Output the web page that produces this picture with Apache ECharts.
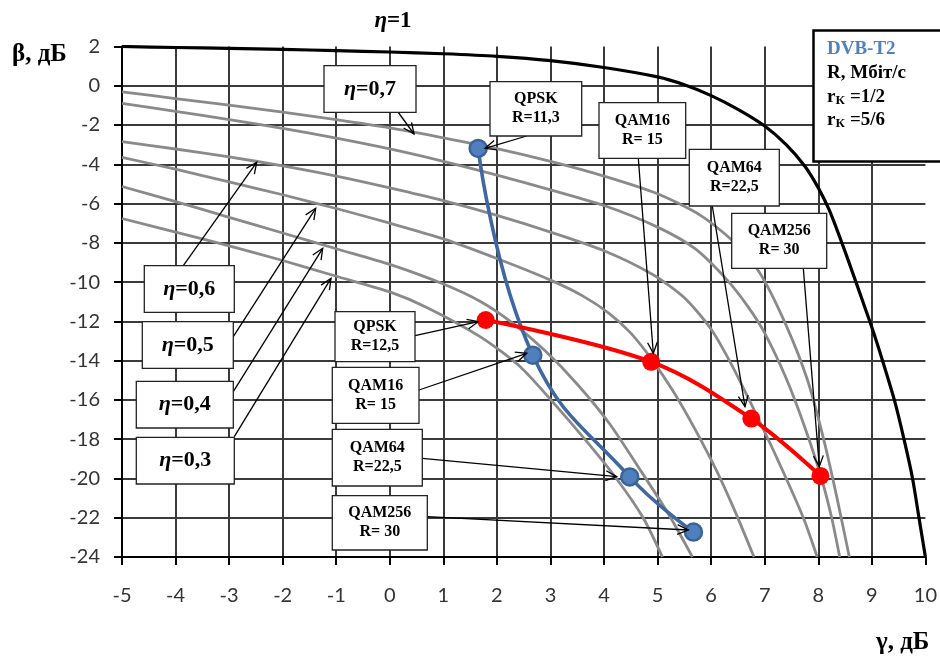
<!DOCTYPE html>
<html><head><meta charset="utf-8">
<script src="https://cdn.jsdelivr.net/npm/echarts@6/dist/echarts.min.js"></script>
<style>html,body{margin:0;padding:0;background:#fff}#c{width:940px;height:657px}</style>
</head><body><div id="c"></div>
<script>
// ---- data ----
const xRange = [-5, 10];
const yRange = [-24, 2];
// eta = 1 (black bound)
const etaOne = [[-5,2.0],[-4,1.95],[-3,1.9],[-2,1.85],[-1,1.79],[0,1.72],[1,1.63],[2,1.5],[3,1.28],[4,0.93],[5,0.45],[5.5,0.05],[6,-0.5],[6.5,-1.2],[7,-2.05],[7.4,-3.0],[7.75,-4.1],[8.0,-5.2],[8.2,-6.3],[8.4,-7.7],[8.6,-9.2],[8.8,-10.75],[9.0,-12.3],[9.2,-14.0],[9.42,-16.0],[9.6,-18.0],[9.76,-20.0],[9.88,-22.0],[10,-24]];
// grey eta curves (top to bottom)
const eta07 = [[-5,-0.31],[-4,-0.65],[-3,-0.99],[-2,-1.34],[-1,-1.73],[0,-2.15],[1,-2.65],[2,-3.2],[3,-3.85],[4,-4.6],[5,-5.5],[5.8,-6.6],[6.4,-7.9],[6.9,-9.5],[7.4,-12.2],[7.8,-15.0],[8.1,-18.0],[8.35,-21.0],[8.58,-24]];
const etaB = [[-5,-0.9],[-4,-1.3],[-3,-1.72],[-2,-2.17],[-1,-2.67],[0,-3.22],[1,-3.85],[2,-4.55],[3,-5.3],[4,-6.1],[5,-7.2],[5.7,-8.3],[6.3,-9.9],[6.7,-11.3],[7.0,-12.6],[7.4,-14.9],[7.75,-17.4],[8.05,-19.9],[8.25,-22],[8.4,-24]];
const eta06 = [[-5,-2.85],[-4,-3.22],[-3,-3.62],[-2,-4.08],[-1,-4.6],[0,-5.2],[1,-5.85],[2,-6.6],[3,-7.45],[4,-8.4],[4.9,-9.6],[5.5,-10.8],[6.0,-12.4],[6.4,-14.3],[6.8,-16.5],[7.15,-18.5],[7.5,-20.6],[7.75,-22.2],[7.98,-24]];
const eta05 = [[-5,-3.65],[-4,-4.25],[-3,-4.9],[-2,-5.55],[-1,-6.25],[0,-7.0],[1,-7.8],[2,-8.8],[3,-9.9],[3.6,-10.7],[4.1,-11.6],[4.5,-12.6],[4.88,-13.9],[5.3,-15.6],[5.7,-17.5],[6.1,-19.6],[6.45,-21.7],[6.8,-24]];
const eta04 = [[-5,-5.13],[-4,-5.9],[-3,-6.7],[-2,-7.5],[-1,-8.3],[0,-9.1],[1,-10.1],[1.7,-11.0],[2.3,-12.1],[2.9,-13.5],[3.5,-15.2],[4.1,-17.2],[4.66,-19.5],[5.2,-21.8],[5.65,-24]];
const eta03 = [[-5,-6.76],[-4,-7.45],[-3,-8.15],[-2,-8.9],[-1,-9.7],[0,-10.5],[0.7,-11.3],[1.7,-12.8],[2.43,-14.3],[3.04,-16.1],[3.64,-18.0],[4.23,-20.0],[4.73,-22.0],[5.09,-24]];
// DVB-T2 operating points
const modulations = ['QPSK','QAM16','QAM64','QAM256'];
const rateHalf = ['R=11,3','R= 15','R=22,5','R= 30'];
const rateFiveSixths = ['R=12,5','R= 15','R=22,5','R= 30'];
const dvbHalf = [[1.65,-3.19],[2.67,-13.72],[4.48,-19.92],[5.67,-22.73]];
const dvbFiveSixths = [[1.79,-11.93],[4.88,-14.06],[6.75,-16.95],[8.04,-19.87]];
const etaNames = ['0,7','0,6','0,5','0,4','0,3'];

// ---- chart ----
const chart = echarts.init(document.getElementById('c'), null, {renderer:'canvas'});
const serif = '"Liberation Serif","Times New Roman",serif';
const grey = {type:'line', showSymbol:false, smooth:0.25, lineStyle:{color:'#8a8a8a', width:2.8}, z:2, silent:true};

function arrow(x1,y1,x2,y2){
  const a = Math.atan2(y2-y1, x2-x1), L = 12, w = 0.42;
  const p1 = [x2 - L*Math.cos(a-w), y2 - L*Math.sin(a-w)];
  const p2 = [x2 - L*Math.cos(a+w), y2 - L*Math.sin(a+w)];
  return [
    {type:'line', z:90, shape:{x1:x1,y1:y1,x2:x2,y2:y2}, style:{stroke:'#000', lineWidth:1.3}},
    {type:'polyline', z:90, shape:{points:[p1,[x2,y2],p2]}, style:{stroke:'#000', fill:null, lineWidth:1.3}}
  ];
}
function box(x,y,w,h,text,rich,font){
  return [
    {type:'rect', z:95, shape:{x:x,y:y,width:w,height:h}, style:{fill:'#fff', stroke:'#222', lineWidth:1.3}},
    {type:'text', z:96, x:x+w/2, y:y+h/2, style:{text:text, rich:rich, font:font||('bold 16px '+serif), fill:'#000', align:'center', verticalAlign:'middle', lineHeight:19}}
  ];
}
const etaRich = {i:{fontFamily:serif, fontStyle:'italic', fontWeight:'bold', fontSize:22, fill:'#000'}, n:{fontFamily:serif, fontWeight:'bold', fontSize:22, fill:'#000'}};
const etaText = v => '{i|η}{n|=' + v + '}';

let g = [];
g = g.concat(arrow(398,112,414,134), box(324,65.7,92,46.6,etaText(etaNames[0]),etaRich));
g = g.concat(arrow(183.3,265.7,256.7,162.3), box(144.3,265.7,90,46.6,etaText(etaNames[1]),etaRich));
g = g.concat(arrow(233.3,336.7,315.7,208.3), box(142.3,321.7,91,46.6,etaText(etaNames[2]),etaRich));
g = g.concat(arrow(233.3,391.7,322.7,248.3), box(136.3,381.3,97,46.7,etaText(etaNames[3]),etaRich));
g = g.concat(arrow(234.3,436.7,331,278.3), box(136.3,437.3,98,46.7,etaText(etaNames[4]),etaRich));
g = g.concat(arrow(415,335.7,478.3,321.7), box(335,311.7,80,50, modulations[0]+'\n'+rateFiveSixths[0]));
g = g.concat(arrow(419,390,526.7,353.3), box(332.3,367.3,86.7,56, modulations[1]+'\n'+rateFiveSixths[1]));
g = g.concat(arrow(422.3,458.3,616.7,476.7), box(332.3,429.3,90,56.7, modulations[2]+'\n'+rateFiveSixths[2]));
g = g.concat(arrow(427.3,516.7,688.3,530), box(332.3,495.7,95,54.3, modulations[3]+'\n'+rateFiveSixths[3]));
g = g.concat(arrow(526.7,136,485,148.3), box(490,81.7,91.7,54.3, modulations[0]+'\n'+rateHalf[0]));
g = g.concat(arrow(638.3,158.3,653.3,353.3), box(599,102.7,86.7,55.6, modulations[1]+'\n'+rateHalf[1]));
g = g.concat(arrow(712.3,206,745,406.7), box(689.3,149.3,90,56.7, modulations[2]+'\n'+rateHalf[2]));
g = g.concat(arrow(803.3,268.3,819.3,466.7), box(731.7,213.3,95,55, modulations[3]+'\n'+rateHalf[3]));
g.push({type:'rect', z:95, shape:{x:813.5,y:30.5,width:140,height:131}, style:{fill:'#fff', stroke:'#000', lineWidth:2.5}});
g.push({type:'text', z:96, x:827, y:49, style:{text:'DVB-T2', font:'bold 19px '+serif, fill:'#4f81bd', verticalAlign:'middle'}});
g.push({type:'text', z:96, x:827, y:73, style:{text:'R, Мбіт/с', font:'bold 19px '+serif, fill:'#000', verticalAlign:'middle'}});
[['=1/2',97],['=5/6',120]].forEach(function(r){
  g.push({type:'text', z:96, x:827, y:r[1], style:{text:'r', font:'bold 19px '+serif, fill:'#000', verticalAlign:'middle'}});
  g.push({type:'text', z:96, x:835.5, y:r[1]+4, style:{text:'К', font:'bold 13px '+serif, fill:'#000', verticalAlign:'middle'}});
  g.push({type:'text', z:96, x:850, y:r[1], style:{text:r[0], font:'bold 19px '+serif, fill:'#000', verticalAlign:'middle'}});
});
g.push({type:'text', z:96, x:393, y:21, style:{text:'{i|η}{n|=1}', rich:{i:{fontFamily:serif,fontStyle:'italic',fontWeight:'bold',fontSize:23,fill:'#000'},n:{fontFamily:serif,fontWeight:'bold',fontSize:23,fill:'#000'}}, align:'center', verticalAlign:'middle'}});
g.push({type:'text', z:96, x:12, y:55, style:{text:'β, дБ', font:'bold 25px '+serif, fill:'#000', verticalAlign:'middle'}});
g.push({type:'text', z:96, x:876, y:643, style:{text:'γ, дБ', font:'bold 25px '+serif, fill:'#000', verticalAlign:'middle'}});

const axisCommon = {
  type:'value',
  axisLine:{show:true, onZero:false, lineStyle:{color:'#000', width:2}},
  axisTick:{show:true, length:8, lineStyle:{color:'#000', width:2}},
  splitLine:{show:true, showMaxLine:false, lineStyle:{color:'#3a3a3a', width:2}},
};

chart.setOption({
  animation:false,
  backgroundColor:'#fff',
  grid:{left:122, right:14, top:46.5, bottom:100, containLabel:false},
  xAxis:Object.assign({}, axisCommon, {min:xRange[0], max:xRange[1], interval:1,
    axisLabel:{margin:29, fontSize:20, color:'#333', fontFamily:'Lato'}}),
  yAxis:Object.assign({}, axisCommon, {min:yRange[0], max:yRange[1], interval:2,
    axisLabel:{margin:22, fontSize:20, color:'#333', fontFamily:'Lato'}}),
  series:[
    Object.assign({}, grey, {name:'η=0,7', data:eta07}),
    Object.assign({}, grey, {name:'η', data:etaB}),
    Object.assign({}, grey, {name:'η=0,6', data:eta06}),
    Object.assign({}, grey, {name:'η=0,5', data:eta05}),
    Object.assign({}, grey, {name:'η=0,4', data:eta04}),
    Object.assign({}, grey, {name:'η=0,3', data:eta03}),
    {type:'line', name:'η=1', data:etaOne, showSymbol:false, smooth:0.25, lineStyle:{color:'#000', width:3.2}, z:3, silent:true},
    {type:'line', name:'rK=1/2', data:dvbHalf, smooth:0.45, symbol:'circle', symbolSize:17,
      lineStyle:{color:'#40689f', width:3.6}, itemStyle:{color:'#4f7fbd', borderColor:'#3c6398', borderWidth:2.5}, z:4},
    {type:'line', name:'rK=5/6', data:dvbFiveSixths, smooth:0.35, symbol:'circle', symbolSize:18,
      lineStyle:{color:'#ff0000', width:4}, itemStyle:{color:'#ff0000'}, z:5}
  ],
  graphic:{elements:g}
});
</script></body></html>
